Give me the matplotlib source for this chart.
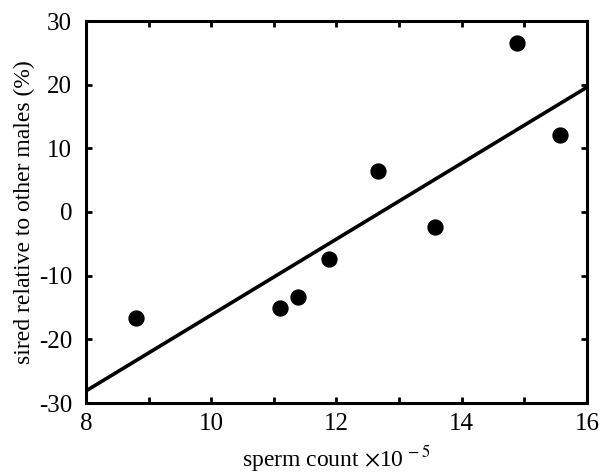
import matplotlib
matplotlib.use("Agg")
import matplotlib.pyplot as plt

sperm_count = [8.8, 11.1, 11.38, 11.88, 12.66, 13.57, 14.88, 15.57]
sired_pct = [-16.7, -15.1, -13.4, -7.4, 6.4, -2.3, 26.6, 12.1]
fit_x = [8, 16]
fit_y = [-28.1, 19.6]
xticks = [8, 10, 12, 14, 16]
yticks = [-30, -20, -10, 0, 10, 20, 30]

plt.rcParams['font.family'] = ['Liberation Serif', 'DejaVu Serif']
plt.rcParams['mathtext.fontset'] = 'stix'

fig = plt.figure(figsize=(6.06, 4.73), dpi=100)
ax = fig.add_axes([86/606, 1-403/473, (587-86)/606, (403-21)/473])

ax.plot(fit_x, fit_y, color='black', lw=2.6, solid_capstyle='butt', clip_on=True)
ax.scatter(sperm_count, sired_pct, s=115, color='black', zorder=3, clip_on=False)

ax.set_xlim(8, 16)
ax.set_ylim(-30, 30)
ax.set_xticks(xticks)
ax.set_xticks(range(8, 17), minor=True)
ax.set_yticks(yticks)
ax.set_yticklabels([str(t) for t in yticks])
ax.tick_params(which='both', direction='in', top=True, right=True, width=2, labelsize=18, color='black')
ax.tick_params(axis='x', which='both', pad=7)
ax.tick_params(axis='y', which='both', pad=10)
ax.tick_params(which='major', length=4)
ax.tick_params(which='minor', length=4)
for sp in ax.spines.values():
    sp.set_linewidth(2.2)

ax.set_xlabel(r'sperm count $\times$10$^{\,-5}$', fontsize=17, labelpad=6)
ax.set_ylabel('sired relative to other males (%)', fontsize=17, labelpad=3)

fig.savefig('out.png', dpi=100)
